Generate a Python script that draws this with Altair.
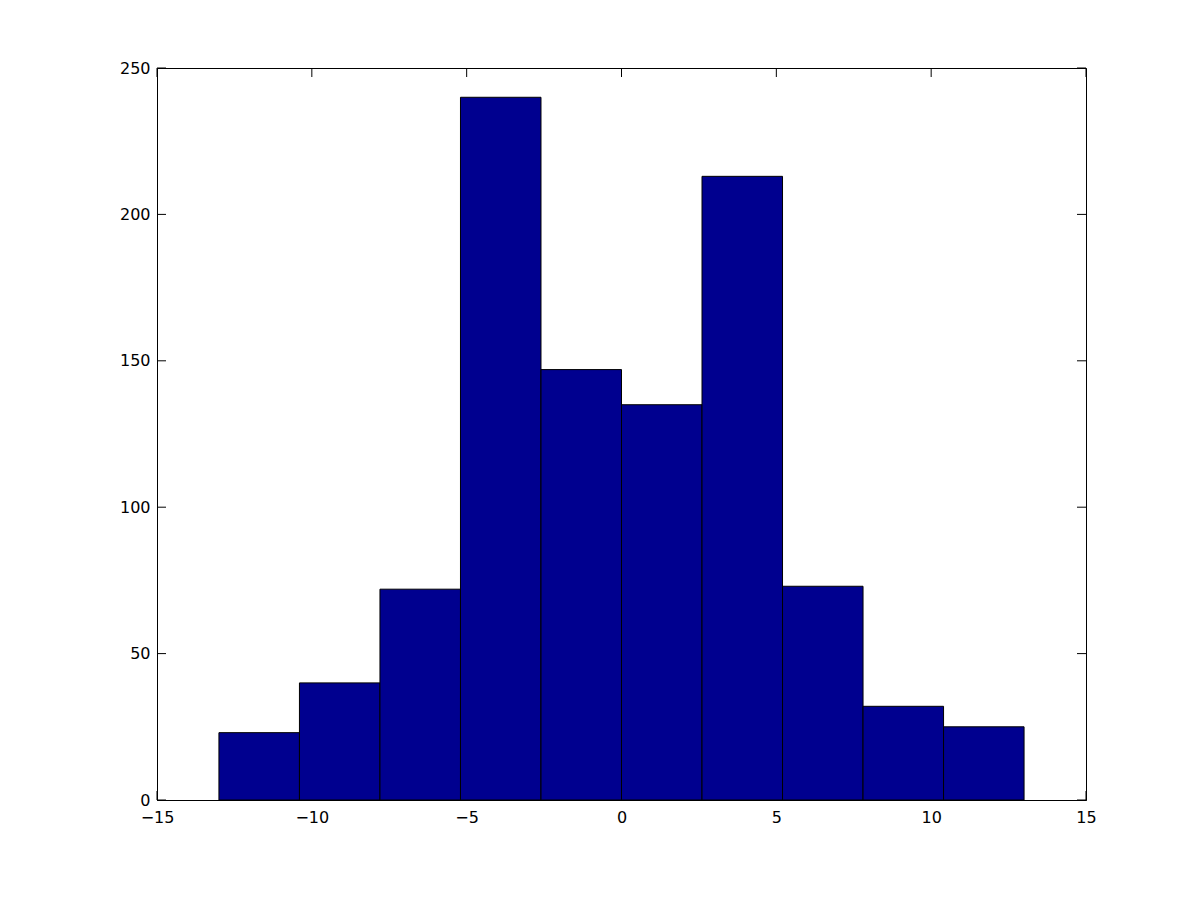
import altair as alt
import pandas as pd

bin_start = [-13.0, -10.4, -7.8, -5.2, -2.6, 0.0, 2.6, 5.2, 7.8, 10.4]
bin_end = [-10.4, -7.8, -5.2, -2.6, 0.0, 2.6, 5.2, 7.8, 10.4, 13.0]
counts = [23, 40, 72, 240, 147, 135, 213, 73, 32, 25]
x_ticks = [-15, -10, -5, 0, 5, 10, 15]
y_ticks = [0, 50, 100, 150, 200, 250]

W, H = 929, 732
TL = 9

df = pd.DataFrame({"start": bin_start, "end": bin_end, "count": counts, "base": [0] * len(counts)})
dx = pd.DataFrame({"t": x_ticks})
dy = pd.DataFrame({"t": y_ticks})

xs = alt.Scale(domain=[-15, 15], nice=False, zero=False)
ys = alt.Scale(domain=[0, 250], nice=False)

font = "DejaVu Sans"

bars = alt.Chart(df).mark_bar(color="#00008F", stroke="black", strokeWidth=1, opacity=1).encode(
    x=alt.X("start:Q", scale=xs, axis=alt.Axis(values=x_ticks, ticks=False, grid=False, title=None,
                                             labelFont=font, labelFontSize=16, labelColor="black",
                                             labelPadding=9, domainColor="black", labelFlush=False)),
    x2="end:Q",
    y=alt.Y("count:Q", scale=ys, axis=alt.Axis(values=y_ticks, ticks=False, grid=False, title=None,
                                              labelFont=font, labelFontSize=16, labelColor="black",
                                              labelPadding=7, domainColor="black", labelFlush=False)),
    y2="base:Q",
)

xb = alt.Chart(dx).mark_rule(color="black", strokeWidth=1).encode(
    x=alt.X("t:Q", scale=xs), y=alt.value(H), y2=alt.value(H - TL))
xt = alt.Chart(dx).mark_rule(color="black", strokeWidth=1).encode(
    x=alt.X("t:Q", scale=xs), y=alt.value(0), y2=alt.value(TL))
yl = alt.Chart(dy).mark_rule(color="black", strokeWidth=1).encode(
    y=alt.Y("t:Q", scale=ys), x=alt.value(0), x2=alt.value(TL))
yr = alt.Chart(dy).mark_rule(color="black", strokeWidth=1).encode(
    y=alt.Y("t:Q", scale=ys), x=alt.value(W), x2=alt.value(W - TL))

chart = alt.layer(xb, xt, yl, yr, bars).properties(
    width=W, height=H,
    padding={"left": 149, "top": 60, "right": 100, "bottom": 80},
    autosize=alt.AutoSizeParams(type="none"),
    background="white",
).configure_view(stroke="black", strokeWidth=1)

chart.save("out.html", embed_options={"renderer": "svg", "actions": False})
